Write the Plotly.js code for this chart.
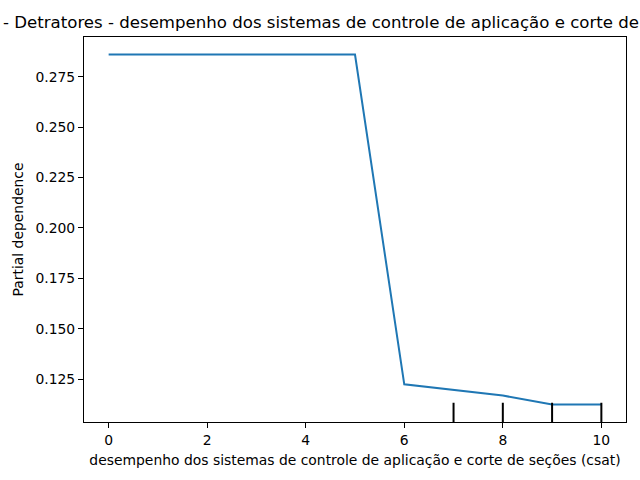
<!DOCTYPE html>
<html>
<head>
<meta charset="utf-8">
<script src="https://cdn.plot.ly/plotly-3.0.1.min.js"></script>
<style>html,body{margin:0;padding:0;background:#fff;}#chart{width:640px;height:480px;}</style>
</head>
<body>
<div id="chart"></div>
<script>
const featureValues = [0, 1, 2, 3, 4, 5, 6, 7, 8, 9, 10];
const partialDependence = [0.286, 0.286, 0.286, 0.286, 0.286, 0.286, 0.1224, 0.1195, 0.1168, 0.1124, 0.1124];
const deciles = [7, 8, 9, 10];
const xTicks = [0, 2, 4, 6, 8, 10];
const yTicks = [0.125, 0.150, 0.175, 0.200, 0.225, 0.250, 0.275];
const titleText = "- Detratores - desempenho dos sistemas de controle de aplicação e corte de seções (csat)";
const xLabel = "desempenho dos sistemas de controle de aplicação e corte de seções (csat)";
const yLabel = "Partial dependence";

const font = "DejaVu Sans, sans-serif";

const trace = {
  x: featureValues,
  y: partialDependence,
  type: 'scatter',
  mode: 'lines',
  line: {color: '#1f77b4', width: 2},
  hoverinfo: 'skip',
  showlegend: false
};

const shapes = deciles.map(d => ({
  type: 'line', xref: 'x', yref: 'paper',
  x0: d, x1: d, y0: 0, y1: 0.05,
  line: {color: 'black', width: 2}
}));

const axisCommon = {
  showgrid: false, zeroline: false, showline: true, mirror: true,
  linecolor: 'black', linewidth: 1,
  ticks: 'outside', ticklen: 5, tickwidth: 1, tickcolor: 'black',
  tickfont: {family: font, size: 13.9, color: 'black'}
};

const layout = {
  width: 640, height: 480,
  margin: {l: 84, r: 14, t: 37, b: 58},
  paper_bgcolor: 'white', plot_bgcolor: 'white',
  title: {text: titleText, x: 3/640, xanchor: 'left', xref: 'container', y: 1 - 22/480, yanchor: 'middle',
          font: {family: font, size: 16.6, color: 'black'}},
  xaxis: Object.assign({}, axisCommon, {
    range: [-0.5, 10.5], tickvals: xTicks, ticktext: xTicks.map(String),
    title: {text: xLabel, font: {family: font, size: 13.9, color: 'black'}, standoff: 8}
  }),
  yaxis: Object.assign({}, axisCommon, {
    range: [0.1037, 0.2947], tickvals: yTicks, ticktext: yTicks.map(v => v.toFixed(3)),
    title: {text: yLabel, font: {family: font, size: 13.9, color: 'black'}, standoff: 8}
  }),
  shapes: shapes
};

Plotly.newPlot('chart', [trace], layout, {displayModeBar: false, staticPlot: true});
</script>
</body>
</html>
